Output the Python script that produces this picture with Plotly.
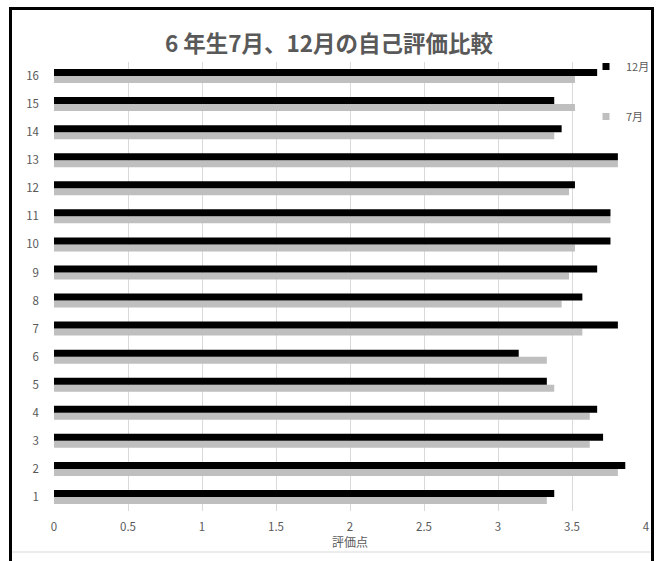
import plotly.graph_objects as go

students = list(range(1, 17))
dec_scores = [3.38, 3.86, 3.71, 3.67, 3.33, 3.14, 3.81, 3.57, 3.67, 3.76, 3.76, 3.52, 3.81, 3.43, 3.38, 3.67]
jul_scores = [3.33, 3.81, 3.62, 3.62, 3.38, 3.33, 3.57, 3.43, 3.48, 3.52, 3.76, 3.48, 3.81, 3.38, 3.52, 3.52]
x_ticks = [0, 0.5, 1, 1.5, 2, 2.5, 3, 3.5, 4]
x_ticktext = ["0", "0.5", "1", "1.5", "2", "2.5", "3", "3.5", "4"]

W, H = 656, 561
L, T = 54, 62
PLOT_R, PLOT_B = 646, 511
R, B = W - PLOT_R, H - PLOT_B
PW, PH = PLOT_R - L, PLOT_B - T


def px(xp):
    return (xp - L) / PW


def py(yp):
    return (PLOT_B - yp) / PH


FONT = "Noto Sans CJK JP, Noto Sans, sans-serif"
GREY_TXT = "#595959"

fig = go.Figure()
fig.add_trace(go.Bar(y=students, x=jul_scores, orientation="h", name="7月",
                     marker=dict(color="#bfbfbf", line=dict(width=0)), showlegend=False))
fig.add_trace(go.Bar(y=students, x=dec_scores, orientation="h", name="12月",
                     marker=dict(color="#000000", line=dict(width=0)), showlegend=False))
# legend entries
fig.add_trace(go.Scatter(x=[None], y=[None], mode="markers", name="12月", legendgroup="a",
                         marker=dict(symbol="square", size=7, color="#000000")))
fig.add_trace(go.Scatter(x=[None], y=[None], mode="markers", name="7月", legendgroup="b",
                         marker=dict(symbol="square", size=7, color="#bfbfbf")))

shapes = [
    # light grey inner chart-area bottom line
    dict(type="line", xref="paper", yref="paper", x0=px(12), x1=px(651), y0=py(552), y1=py(552),
         line=dict(color="#d9d9d9", width=1)),
    # black outer frame
    dict(type="rect", xref="paper", yref="paper", x0=px(10.5), x1=px(652.5), y0=py(580), y1=py(8.5),
         line=dict(color="#000000", width=3), fillcolor="rgba(0,0,0,0)", layer="above"),
]

fig.update_layout(
    width=W, height=H,
    margin=dict(l=L, r=R, t=T, b=B, autoexpand=False),
    paper_bgcolor="white", plot_bgcolor="white",
    font=dict(family=FONT, color=GREY_TXT, size=11),
    title=dict(text="<b>6 年生7月、12月の自己評価比較</b>", x=329 / W, xanchor="center",
               y=1 - 44 / H, yanchor="middle",
               font=dict(family=FONT, size=22.5, color=GREY_TXT)),
    barmode="group", bargap=0.5, bargroupgap=0,
    xaxis=dict(range=[0, 4], tickvals=x_ticks, ticktext=x_ticktext, showgrid=True,
               gridcolor="#d9d9d9", gridwidth=1, zeroline=False, showline=False,
               tickfont=dict(size=11.5, color=GREY_TXT), ticks="", ticklabelstandoff=7,
               title=dict(text="評価点", standoff=0, font=dict(size=12, color=GREY_TXT))),
    yaxis=dict(range=[0.5, 16.5], tickvals=students, ticktext=[str(s) for s in students],
               showgrid=False, zeroline=False, showline=False, ticks="",
               ticklabelstandoff=14, tickfont=dict(size=11.5, color=GREY_TXT)),
    legend=dict(x=px(655), xanchor="right", y=py(52), yanchor="top", tracegroupgap=31,
                font=dict(size=11, color=GREY_TXT), bgcolor="rgba(0,0,0,0)", itemwidth=30,
                traceorder="grouped"),
    shapes=shapes,
)

fig.write_html("out.html", config=dict(displayModeBar=False),
               post_script="document.body.style.margin='0';document.body.style.overflow='hidden';")
